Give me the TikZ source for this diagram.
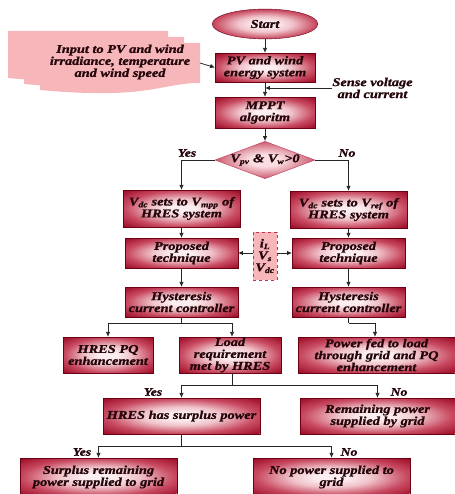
\documentclass[tikz,border=0pt]{standalone}
\usepackage{fontspec}
\setmainfont{Liberation Serif}
\newfontfamily\boxfont[FakeStretch=1.2, FakeBold=1.2]{Liberation Serif}
\usetikzlibrary{shapes.geometric,arrows.meta}
\definecolor{cWhite}{RGB}{252,238,240}
\definecolor{cLight}{RGB}{240,195,202}
\definecolor{cMid}{RGB}{200,75,98}
\definecolor{cDark}{RGB}{160,16,42}
\definecolor{cDarker}{RGB}{140,6,30}
\definecolor{cEdge}{RGB}{110,0,20}
\definecolor{dLight}{RGB}{250,222,226}
\definecolor{dDark}{RGB}{190,52,78}
\definecolor{pinkfill}{RGB}{247,182,186}
\definecolor{txt}{RGB}{35,5,10}
\pgfdeclareradialshading{redbox}{\pgfpoint{0bp}{0bp}}{color(0bp)=(cWhite); color(5bp)=(cWhite); color(13bp)=(cLight); color(24bp)=(cMid); color(34bp)=(cDark); color(50bp)=(cDarker)}
\pgfdeclareradialshading{reddia}{\pgfpoint{0bp}{0bp}}{color(0bp)=(dLight); color(8bp)=(dLight); color(30bp)=(dDark); color(50bp)=(dDark)}
\begin{document}
\begin{tikzpicture}[x=1bp,y=-1bp,
  every node/.style={font=\boxfont\bfseries\itshape\fontsize{12}{12}\selectfont, text=txt, align=center, inner sep=0pt},
  box/.style={rectangle, draw=cEdge, line width=0.4pt, shading=redbox},
  startnode/.style={ellipse, draw=cEdge, line width=0.4pt, shading=redbox},
  decnode/.style={diamond, draw=dDark, line width=0.4pt, shading=reddia, aspect=2.67},
  sigbox/.style={rectangle, draw=dDark, dashed, line width=0.6pt, fill=pinkfill},
  lbl/.style={font=\boxfont\bfseries\itshape\fontsize{11.5}{12}\selectfont},
  arr/.style={-{Latex[length=5pt,width=4.5pt]}, line width=0.8pt, draw=black!85},
  ln/.style={line width=0.8pt, draw=black!85}]
\useasboundingbox (0,0) rectangle (455,494);

% multi-document input shape
\fill[pinkfill] (8,31) -- (168,31) -- (168,71) .. controls (128,71) and (118,88) .. (8,78) -- cycle;
\fill[pinkfill] (24,37) -- (184,37) -- (184,77) .. controls (144,77) and (134,94) .. (24,84) -- cycle;
\fill[pinkfill] (40,43) -- (200,43) -- (200,83) .. controls (160,83) and (150,100) .. (40,90) -- cycle;
\node[minimum width=160, minimum height=40] (inp) at (120,63) {};
\node (inptxt) at (120,62) {Input to PV and wind\\irradiance, temperature\\and wind speed};

\node[startnode, minimum width=106, minimum height=30] (start) at (265,24) {Start};
\node[box, minimum width=100, minimum height=29] (pv) at (265,67.5) {PV and wind\\energy system};
\node (sense) at (372.5,88) {Sense voltage\\and current};
\node[box, minimum width=100, minimum height=31] (mppt) at (265,112.5) {MPPT\\algoritm};
\node[decnode, minimum width=96, minimum height=36] (dec) at (265,160) {V\textsubscript{pv} \& V\textsubscript{w}>0};

\node[box, minimum width=117, minimum height=37] (vl) at (181.5,208.5) {V\textsubscript{dc} sets to V\textsubscript{mpp} of\\HRES system};
\node[box, minimum width=117, minimum height=37] (vr) at (348.5,209.5) {V\textsubscript{dc} sets to V\textsubscript{ref} of\\HRES system};
\node[box, minimum width=113, minimum height=30] (pl) at (181.5,253) {Proposed\\technique};
\node[box, minimum width=113, minimum height=30] (pr) at (348.5,253) {Proposed\\technique};
\node[sigbox, minimum width=24, minimum height=48] (sig) at (265,256) {i\textsubscript{L}\\V\textsubscript{s}\\V\textsubscript{dc}};
\node[box, minimum width=113, minimum height=30] (hl) at (181.5,302) {Hysteresis\\current controller};
\node[box, minimum width=113, minimum height=30] (hr) at (348.5,302) {Hysteresis\\current controller};

\node[box, minimum width=90, minimum height=36] (pq) at (108,355) {HRES PQ\\enhancement};
\node[box, minimum width=102, minimum height=36] (load) at (230,355) {Load\\requirement\\met by HRES};
\node[box, minimum width=157, minimum height=36] (fed) at (376.5,355) {Power fed to load\\through grid and PQ\\enhancement};

\node[box, minimum width=157, minimum height=36] (surp) at (181.5,416) {HRES has surplus power};
\node[box, minimum width=155, minimum height=36] (rem) at (377.5,416) {Remaining power\\supplied by grid};
\node[box, minimum width=157, minimum height=38] (sg) at (98.5,477) {Surplus remaining\\power supplied to grid};
\node[box, minimum width=157, minimum height=38] (np) at (331.5,477) {No power supplied to\\grid};

% labels
\node[lbl] (y1) at (187,153) {Yes};
\node[lbl] (n1) at (347,153) {No};
\node[lbl] (y2) at (153,392) {Yes};
\node[lbl] (n2) at (399,392) {No};
\node[lbl] (y3) at (82,452) {Yes};
\node[lbl] (n3) at (349,452) {No};

% connectors
\draw[arr] (start) -- (pv);
\draw[arr] (inp.east) -- (pv.west);
\draw[arr] (sense.west) -- (sense.west -| pv.south);
\draw[arr] (pv) -- (mppt);
\draw[arr] (mppt) -- (dec);
\draw[arr] (dec.west) -| (vl.north);
\draw[arr] (dec.east) -| (vr.north);
\draw[arr] (vl) -- (pl);
\draw[arr] (vr) -- (pr);
\draw[arr] (sig.west |- pl.east) -- (pl.east);
\draw[arr] (sig.east |- pr.west) -- (pr.west);
\draw[arr] (pl) -- (hl);
\draw[arr] (pr) -- (hr);
\draw[ln] (hl.south) -- ++(0,6) coordinate (j0);
\draw[arr] (j0) -| (pq.north);
\draw[arr] (j0) -| ([xshift=2]load.north);
\draw[ln] (hr.south) -- ++(0,6) coordinate (j0r);
\draw[arr] (j0r) -| ([xshift=-1.5]fed.north);
\draw[ln] ([xshift=2]load.south) -- ++(0,12) coordinate (j1);
\draw[arr] (j1) -| (surp.north);
\draw[arr] (j1) -| (rem.north);
\draw[ln] (surp.south) -- ++(0,12) coordinate (j2);
\draw[arr] (j2) -| (sg.north);
\draw[arr] (j2) -| (np.north);
\end{tikzpicture}
\end{document}
